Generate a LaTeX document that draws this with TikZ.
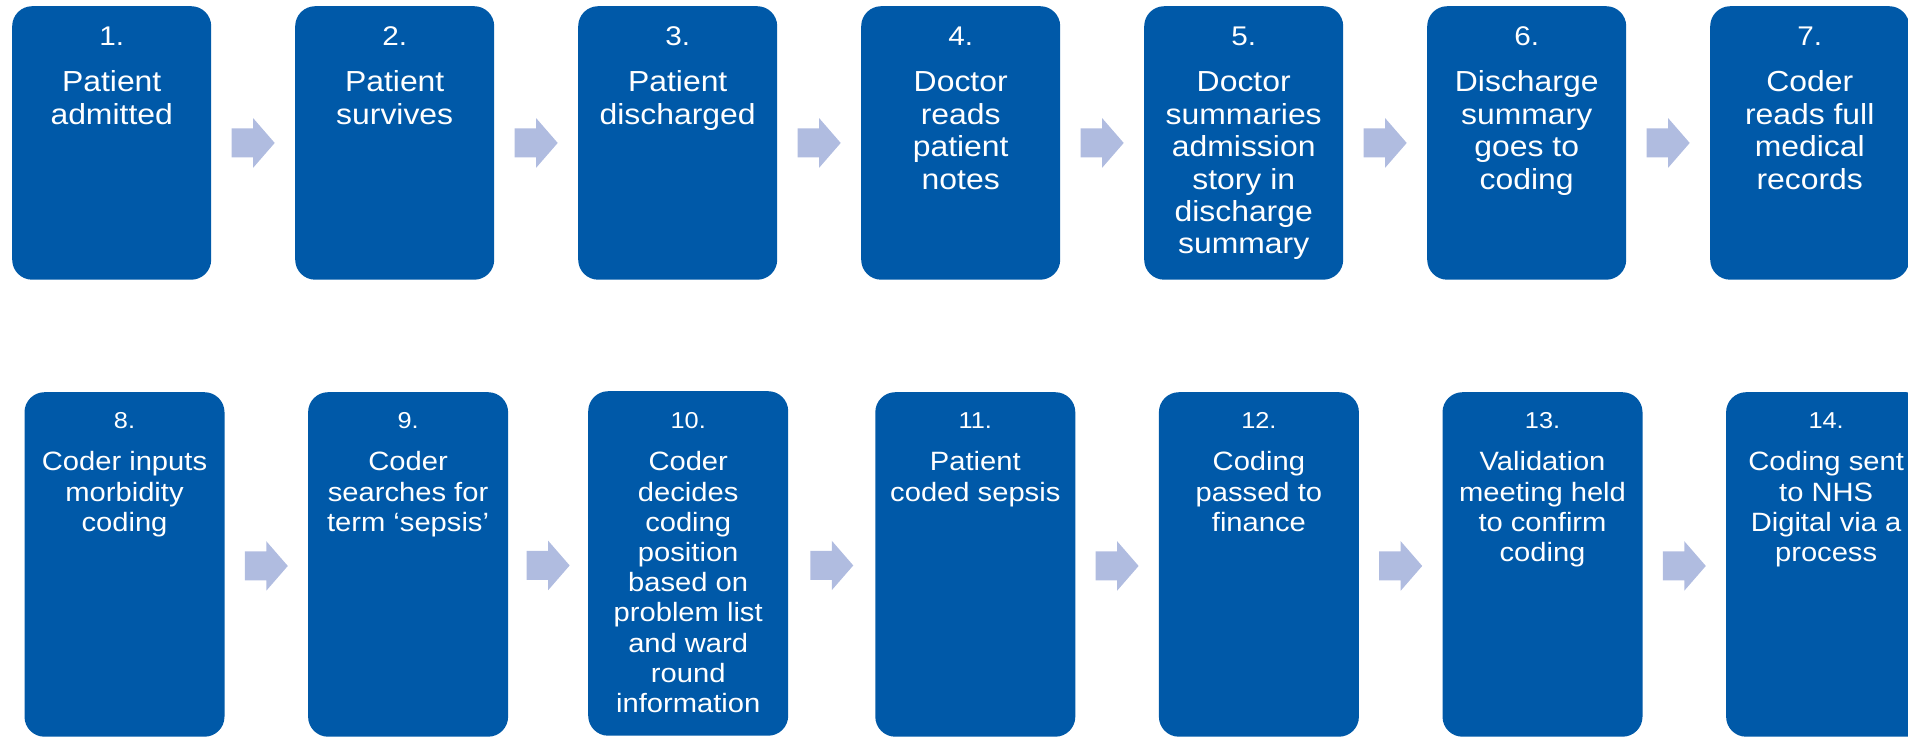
\documentclass[tikz,border=0pt]{standalone}
\usepackage{fontspec}
\setmainfont{Liberation Sans}[FakeStretch=1.1]
\usetikzlibrary{calc}
\definecolor{boxblue}{RGB}{0,89,168}
\definecolor{arrowblue}{RGB}{176,188,224}
\tikzset{
  boxA/.style={fill=boxblue, draw=none, rounded corners=20pt, inner sep=0pt, anchor=north west, minimum width=199pt, minimum height=273.5pt},
  boxB/.style={boxA, minimum width=200pt, minimum height=344.5pt},
  numA/.style={text=white, anchor=base, inner sep=0pt, font=\fontsize{27}{32}\selectfont},
  numB/.style={numA, font=\fontsize{23}{28}\selectfont},
  txtA/.style={text=white, anchor=north, inner sep=0pt, align=center, font=\fontsize{29}{32.4}\selectfont},
  txtB/.style={txtA, font=\fontsize{26.5}{30.2}\selectfont},
  flowarrow/.pic={\fill[arrowblue] (-21.5,-14.5) -- (0,-14.5) -- (0,-24.75) -- (21.5,0) -- (0,24.75) -- (0,14.5) -- (-21.5,14.5) -- cycle;},
}
\newcommand{\sA}{\rule{0pt}{23pt}}
\newcommand{\sB}{\rule{0pt}{21pt}}
\begin{document}
\begin{tikzpicture}[x=1pt,y=-1pt]
\useasboundingbox (0,0) rectangle (1908,737);
\coordinate (r1num) at (0,45.7);
\coordinate (r1txt) at (0,68.7);
\coordinate (r2num) at (0,428.3);
\coordinate (r2txt) at (0,449.7);
% row 1 boxes
\node[boxA] (b1) at (12,6) {};
\node[boxA] (b2) at (295,6) {};
\node[boxA] (b3) at (578,6) {};
\node[boxA] (b4) at (861,6) {};
\node[boxA] (b5) at (1144,6) {};
\node[boxA] (b6) at (1427,6) {};
\node[boxA] (b7) at (1710,6) {};
% row 2 boxes
\node[boxB] (b8) at (24.3,392) {};
\node[boxB] (b9) at (307.9,392) {};
\node[boxB] (b10) at (588,391) {};
\node[boxB] (b11) at (875.1,392) {};
\node[boxB] (b12) at (1158.7,392) {};
\node[boxB] (b13) at (1442.3,392) {};
\node[boxB] (b14) at (1725.9,392) {};
% numbers
\node[numA] (n1) at (b1.north |- r1num) {1.};
\node[numA] (n2) at (b2.north |- r1num) {2.};
\node[numA] (n3) at (b3.north |- r1num) {3.};
\node[numA] (n4) at (b4.north |- r1num) {4.};
\node[numA] (n5) at (b5.north |- r1num) {5.};
\node[numA] (n6) at (b6.north |- r1num) {6.};
\node[numA] (n7) at (b7.north |- r1num) {7.};
\node[numB] (n8) at (b8.north |- r2num) {8.};
\node[numB] (n9) at (b9.north |- r2num) {9.};
\node[numB] (n10) at (b10.north |- r2num) {10.};
\node[numB] (n11) at (b11.north |- r2num) {11.};
\node[numB] (n12) at (b12.north |- r2num) {12.};
\node[numB] (n13) at (b13.north |- r2num) {13.};
\node[numB] (n14) at (b14.north |- r2num) {14.};
% texts
\node[txtA] (t1) at (b1.north |- r1txt) {\sA Patient\\admitted};
\node[txtA] (t2) at (b2.north |- r1txt) {\sA Patient\\survives};
\node[txtA] (t3) at (b3.north |- r1txt) {\sA Patient\\discharged};
\node[txtA] (t4) at (b4.north |- r1txt) {\sA Doctor\\reads\\patient\\notes};
\node[txtA] (t5) at (b5.north |- r1txt) {\sA Doctor\\summaries\\admission\\story in\\discharge\\summary};
\node[txtA] (t6) at (b6.north |- r1txt) {\sA Discharge\\summary\\goes to\\coding};
\node[txtA] (t7) at (b7.north |- r1txt) {\sA Coder\\reads full\\medical\\records};
\node[txtB] (t8) at (b8.north |- r2txt) {\sB Coder inputs\\morbidity\\coding};
\node[txtB] (t9) at (b9.north |- r2txt) {\sB Coder\\searches for\\term ‘sepsis’};
\node[txtB] (t10) at (b10.north |- r2txt) {\sB Coder\\decides\\coding\\position\\based on\\problem list\\and ward\\round\\information};
\node[txtB] (t11) at (b11.north |- r2txt) {\sB Patient\\coded sepsis};
\node[txtB] (t12) at (b12.north |- r2txt) {\sB Coding\\passed to\\finance};
\node[txtB] (t13) at (b13.north |- r2txt) {\sB Validation\\meeting held\\to confirm\\coding};
\node[txtB] (t14) at (b14.north |- r2txt) {\sB Coding sent\\to NHS\\Digital via a\\process};
% arrows
\pic (a1) at ($(b1.east)!0.5!(b2.west)$) {flowarrow};
\pic (a2) at ($(b2.east)!0.5!(b3.west)$) {flowarrow};
\pic (a3) at ($(b3.east)!0.5!(b4.west)$) {flowarrow};
\pic (a4) at ($(b4.east)!0.5!(b5.west)$) {flowarrow};
\pic (a5) at ($(b5.east)!0.5!(b6.west)$) {flowarrow};
\pic (a6) at ($(b6.east)!0.5!(b7.west)$) {flowarrow};
\pic[yshift=-1.5pt] (a8) at ($(b8.east)!0.5!(b9.west)$) {flowarrow};
\pic[yshift=-1.5pt] (a9) at ($(b9.east)!0.5!(b10.west)$) {flowarrow};
\pic[yshift=-1.5pt] (a10) at ($(b10.east)!0.5!(b11.west)$) {flowarrow};
\pic[yshift=-1.5pt] (a11) at ($(b11.east)!0.5!(b12.west)$) {flowarrow};
\pic[yshift=-1.5pt] (a12) at ($(b12.east)!0.5!(b13.west)$) {flowarrow};
\pic[yshift=-1.5pt] (a13) at ($(b13.east)!0.5!(b14.west)$) {flowarrow};
\end{tikzpicture}
\end{document}
